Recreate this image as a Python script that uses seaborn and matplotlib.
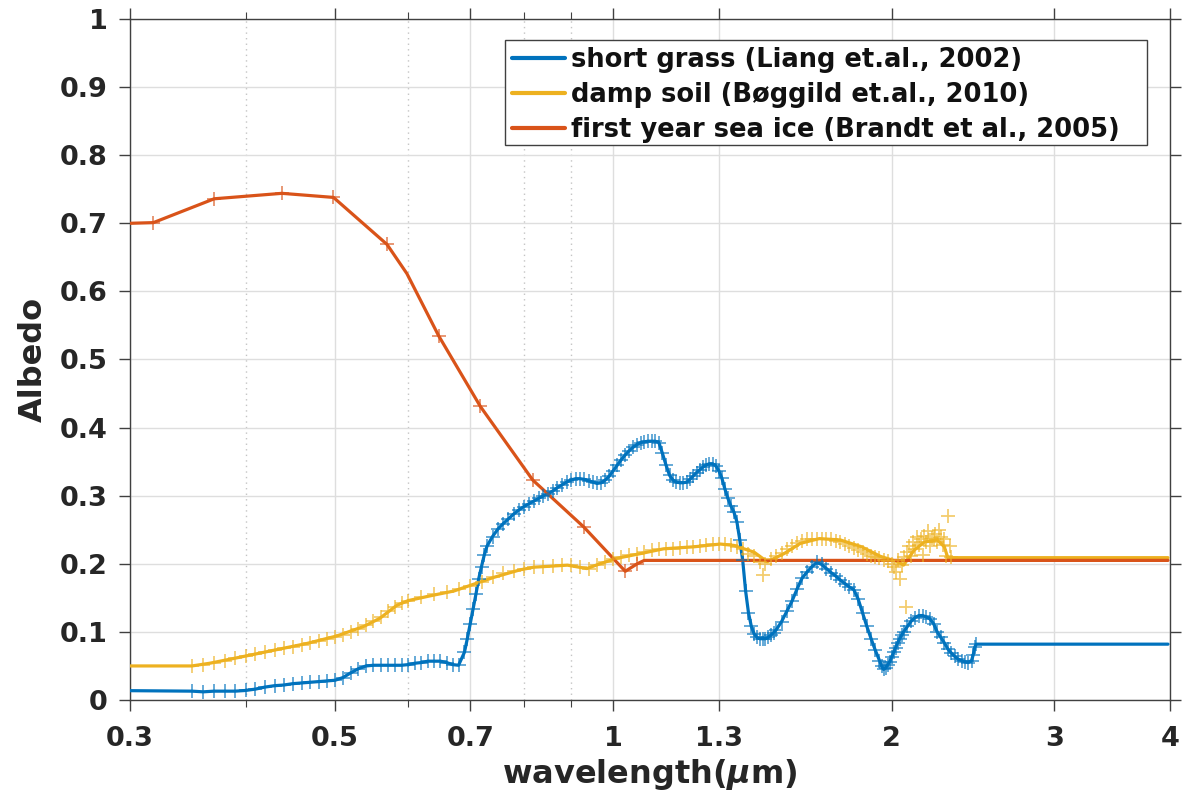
import matplotlib
matplotlib.use("Agg")
import matplotlib.pyplot as plt
import seaborn as sns
import pandas as pd
from matplotlib.ticker import FixedLocator, NullFormatter
from matplotlib.patches import Rectangle

# ---------------- data ----------------
WL_MIN = 0.3
WL_MAX = 3.98

grass_wl = [0.350, 0.360, 0.370, 0.380, 0.390, 0.400, 0.410, 0.420, 0.430, 0.440,
            0.450, 0.460, 0.470, 0.480, 0.490, 0.500, 0.510, 0.520, 0.530, 0.540,
            0.550, 0.560, 0.570, 0.580, 0.590, 0.600, 0.610, 0.620, 0.630, 0.640,
            0.650, 0.660, 0.670, 0.680, 0.690, 0.695, 0.700, 0.705, 0.710, 0.715,
            0.720, 0.725, 0.730, 0.740, 0.750, 0.760, 0.770, 0.780, 0.790, 0.800,
            0.810, 0.820, 0.830, 0.840, 0.850, 0.860, 0.870, 0.880, 0.890, 0.900,
            0.910, 0.920, 0.930, 0.940, 0.950, 0.960, 0.970, 0.980, 0.990, 1.000,
            1.010, 1.020, 1.030, 1.040, 1.050, 1.060, 1.070, 1.080, 1.090, 1.100,
            1.110, 1.120, 1.130, 1.140, 1.150, 1.160, 1.170, 1.180, 1.190, 1.200,
            1.210, 1.220, 1.230, 1.240, 1.250, 1.260, 1.270, 1.280, 1.290, 1.300,
            1.310, 1.320, 1.330, 1.340, 1.350, 1.360, 1.370, 1.380, 1.390, 1.400,
            1.410, 1.420, 1.430, 1.440, 1.450, 1.460, 1.470, 1.480, 1.490, 1.500,
            1.520, 1.540, 1.560, 1.580, 1.600, 1.620, 1.640, 1.660, 1.680, 1.700,
            1.720, 1.740, 1.760, 1.780, 1.800, 1.820, 1.840, 1.860, 1.880, 1.900,
            1.920, 1.940, 1.950, 1.960, 1.970, 1.980, 1.990, 2.000, 2.010, 2.020,
            2.030, 2.040, 2.050, 2.060, 2.080, 2.100, 2.120, 2.140, 2.160, 2.180,
            2.200, 2.220, 2.240, 2.260, 2.280, 2.300, 2.320, 2.340, 2.360, 2.380,
            2.400, 2.420, 2.440, 2.450, 2.460, 2.470]
grass_albedo = [0.013, 0.012, 0.013, 0.013, 0.013, 0.014, 0.016, 0.019, 0.021, 0.022,
                0.024, 0.025, 0.026, 0.027, 0.028, 0.029, 0.033, 0.040, 0.046, 0.050,
                0.051, 0.051, 0.051, 0.051, 0.051, 0.052, 0.054, 0.055, 0.057, 0.057,
                0.057, 0.055, 0.052, 0.051, 0.070, 0.090, 0.112, 0.133, 0.155, 0.178,
                0.196, 0.213, 0.226, 0.240, 0.251, 0.259, 0.266, 0.273, 0.279, 0.284,
                0.288, 0.292, 0.296, 0.300, 0.303, 0.307, 0.312, 0.316, 0.320, 0.323,
                0.325, 0.325, 0.324, 0.322, 0.320, 0.318, 0.319, 0.323, 0.329, 0.337,
                0.345, 0.353, 0.360, 0.366, 0.371, 0.375, 0.378, 0.379, 0.380, 0.380,
                0.380, 0.378, 0.362, 0.345, 0.330, 0.323, 0.320, 0.319, 0.319, 0.320,
                0.324, 0.329, 0.334, 0.338, 0.342, 0.345, 0.347, 0.347, 0.344, 0.337,
                0.326, 0.310, 0.296, 0.285, 0.276, 0.262, 0.235, 0.205, 0.160, 0.128,
                0.108, 0.097, 0.092, 0.090, 0.090, 0.090, 0.092, 0.095, 0.099, 0.103,
                0.115, 0.130, 0.145, 0.163, 0.179, 0.188, 0.196, 0.202, 0.199, 0.193,
                0.187, 0.182, 0.176, 0.171, 0.166, 0.162, 0.148, 0.128, 0.108, 0.090,
                0.073, 0.058, 0.050, 0.045, 0.047, 0.052, 0.056, 0.063, 0.070, 0.077,
                0.084, 0.090, 0.095, 0.100, 0.108, 0.116, 0.121, 0.124, 0.124, 0.122,
                0.119, 0.112, 0.100, 0.092, 0.084, 0.075, 0.069, 0.064, 0.060, 0.058,
                0.056, 0.055, 0.058, 0.066, 0.078, 0.082]
grass_start = 0.0137
grass_end = 0.082

soil_wl = [0.350, 0.360, 0.370, 0.380, 0.390, 0.400, 0.410, 0.420, 0.430, 0.440,
           0.450, 0.460, 0.470, 0.480, 0.490, 0.500, 0.510, 0.520, 0.530, 0.540,
           0.550, 0.560, 0.570, 0.580, 0.590, 0.600, 0.620, 0.640, 0.660, 0.680,
           0.700, 0.720, 0.740, 0.760, 0.780, 0.800, 0.820, 0.840, 0.860, 0.880,
           0.900, 0.920, 0.940, 0.960, 0.980, 1.000, 1.020, 1.040, 1.060, 1.080,
           1.100, 1.120, 1.140, 1.160, 1.180, 1.200, 1.220, 1.240, 1.260, 1.280,
           1.300, 1.320, 1.340, 1.360, 1.380, 1.400, 1.420, 1.440, 1.450, 1.460,
           1.480, 1.500, 1.520, 1.540, 1.560, 1.580, 1.600, 1.620, 1.640, 1.660,
           1.680, 1.700, 1.720, 1.740, 1.760, 1.780, 1.800, 1.820, 1.840, 1.860,
           1.880, 1.900, 1.920, 1.940, 1.960, 1.980, 2.000, 2.010, 2.020, 2.030,
           2.040, 2.050, 2.060, 2.070, 2.080, 2.090, 2.100, 2.110, 2.120, 2.130,
           2.140, 2.150, 2.160, 2.170, 2.180, 2.190, 2.200, 2.210, 2.220, 2.230,
           2.240, 2.250, 2.260, 2.270, 2.280, 2.290, 2.300, 2.310, 2.320]
soil_albedo = [0.050, 0.052, 0.054, 0.057, 0.061, 0.064, 0.067, 0.071, 0.073, 0.076,
               0.078, 0.081, 0.084, 0.087, 0.090, 0.093, 0.096, 0.100, 0.104, 0.110,
               0.116, 0.122, 0.130, 0.137, 0.142, 0.146, 0.151, 0.155, 0.158, 0.163,
               0.168, 0.174, 0.180, 0.186, 0.190, 0.193, 0.195, 0.196, 0.197, 0.198,
               0.198, 0.196, 0.193, 0.198, 0.203, 0.207, 0.210, 0.213, 0.215, 0.217,
               0.220, 0.222, 0.222, 0.222, 0.223, 0.224, 0.225, 0.226, 0.228, 0.229,
               0.229, 0.229, 0.228, 0.225, 0.221, 0.215, 0.212, 0.202, 0.183, 0.200,
               0.207, 0.212, 0.216, 0.221, 0.226, 0.230, 0.233, 0.236, 0.237, 0.237,
               0.237, 0.237, 0.236, 0.234, 0.232, 0.229, 0.226, 0.223, 0.220, 0.217,
               0.214, 0.212, 0.210, 0.208, 0.206, 0.204, 0.200, 0.195, 0.188, 0.205,
               0.178, 0.198, 0.210, 0.137, 0.218, 0.226, 0.212, 0.232, 0.222, 0.240,
               0.228, 0.236, 0.213, 0.241, 0.232, 0.248, 0.226, 0.238, 0.236, 0.244,
               0.232, 0.250, 0.240, 0.228, 0.236, 0.212, 0.270, 0.226, 0.210]

soil_line_wl = [0.300, 0.350, 0.366, 0.395, 0.429, 0.466, 0.502, 0.537, 0.559, 0.583,
                0.600, 0.639, 0.672, 0.706, 0.742, 0.792, 0.820, 0.892, 0.936, 0.967,
                1.008, 1.070, 1.133, 1.223, 1.305, 1.350, 1.420, 1.467, 1.530, 1.593,
                1.670, 1.760, 1.855, 1.944, 2.030, 2.060, 2.115, 2.170, 2.240, 2.280,
                2.300, 3.980]
soil_line_albedo = [0.050, 0.050, 0.054, 0.063, 0.073, 0.083, 0.094, 0.108, 0.120, 0.139,
                    0.146, 0.154, 0.160, 0.170, 0.180, 0.191, 0.195, 0.198, 0.193, 0.200,
                    0.208, 0.215, 0.222, 0.225, 0.229, 0.227, 0.217, 0.203, 0.215, 0.230,
                    0.237, 0.235, 0.225, 0.211, 0.203, 0.198, 0.220, 0.232, 0.235, 0.225,
                    0.209, 0.209]

ice_wl = [0.318, 0.370, 0.438, 0.498, 0.569, 0.647, 0.718, 0.818, 0.929, 1.030, 1.061]
ice_albedo = [0.701, 0.736, 0.744, 0.738, 0.669, 0.535, 0.431, 0.323, 0.254, 0.189, 0.200]
ice_line_wl = [0.300, 0.318, 0.370, 0.438, 0.498, 0.569, 0.598, 0.647, 0.718, 0.818,
               0.929, 1.030, 1.061, 1.080, 3.980]
ice_line_albedo = [0.700, 0.701, 0.736, 0.744, 0.738, 0.669, 0.626, 0.535, 0.431, 0.323,
                   0.254, 0.189, 0.200, 0.205, 0.205]

labels = ["short grass (Liang et.al., 2002)",
          "damp soil (Bøggild et.al., 2010)",
          "first year sea ice (Brandt et al., 2005)"]
colors = ["#0072BD", "#EDB120", "#D95319"]

x_ticks = [0.3, 0.5, 0.7, 1, 1.3, 2, 3, 4]
x_ticklabels = ["0.3", "0.5", "0.7", "1", "1.3", "2", "3", "4"]
x_minor = [0.4, 0.6, 0.8, 0.9]
y_ticks = [0, 0.1, 0.2, 0.3, 0.4, 0.5, 0.6, 0.7, 0.8, 0.9, 1.0]
y_ticklabels = ["0", "0.1", "0.2", "0.3", "0.4", "0.5", "0.6", "0.7", "0.8", "0.9", "1"]

# ---------------- build tables ----------------
grass_line = pd.DataFrame({"wl": [WL_MIN] + grass_wl + [WL_MAX],
                           "alb": [grass_start] + grass_albedo + [grass_end]})
grass_pts = pd.DataFrame({"wl": grass_wl, "alb": grass_albedo})
soil_line = pd.DataFrame({"wl": soil_line_wl, "alb": soil_line_albedo})
soil_pts = pd.DataFrame({"wl": soil_wl, "alb": soil_albedo})
ice_line = pd.DataFrame({"wl": ice_line_wl, "alb": ice_line_albedo})
ice_pts = pd.DataFrame({"wl": ice_wl, "alb": ice_albedo})

# ---------------- style ----------------
sns.set_theme(style="ticks")
plt.rcParams["font.family"] = ["DejaVu Sans"]
plt.rcParams["font.weight"] = "bold"
plt.rcParams["axes.labelweight"] = "bold"
plt.rcParams["mathtext.default"] = "it"

W, H = 1184, 798
AX_L, AX_R, AX_T, AX_B = 130, 1170, 19, 700
fig = plt.figure(figsize=(W / 100, H / 100), dpi=100)
ax = fig.add_axes([AX_L / W, 1 - AX_B / H, (AX_R - AX_L) / W, (AX_B - AX_T) / H])
ax.set_xscale("log")


def ax_x(px):
    return (px - AX_L) / (AX_R - AX_L)


def ax_y(py):
    return (AX_B - py) / (AX_B - AX_T)


LW = 2.3
MS = 100
lines_data = [(grass_line, grass_pts), (soil_line, soil_pts), (ice_line, ice_pts)]
for (ldf, pdf), c, lab in zip(lines_data, colors, labels):
    sns.lineplot(data=ldf, x="wl", y="alb", color=c, lw=LW, sort=False,
                 estimator=None, ax=ax, label=lab, zorder=3)
for (ldf, pdf), c in zip(lines_data, colors):
    sns.scatterplot(data=pdf, x="wl", y="alb", color=c, marker="+", s=MS,
                    linewidth=1.3, alpha=0.65, ax=ax, legend=False, zorder=4)

ax.set_xlim(0.3, 4)
ax.set_ylim(0, 1)
ax.xaxis.set_major_locator(FixedLocator(x_ticks))
ax.set_xticklabels(x_ticklabels)
ax.xaxis.set_minor_locator(FixedLocator(x_minor))
ax.xaxis.set_minor_formatter(NullFormatter())
ax.set_yticks(y_ticks)
ax.set_yticklabels(y_ticklabels)

ax.grid(which="major", color="#dedede", lw=1.0, zorder=0)
ax.grid(which="minor", axis="x", color="#c4c4c4", lw=1.0, ls=(0, (1, 3)), zorder=0)
ax.set_axisbelow(True)

for s in ax.spines.values():
    s.set_visible(True)
    s.set_color("#404040")
    s.set_linewidth(1.0)

ax.tick_params(which="major", direction="out", length=8, width=1.0,
               colors="#404040", top=True, right=True,
               labelcolor="#262626", labelsize=19.5)
ax.tick_params(which="minor", direction="out", length=5, width=0.8,
               colors="#404040", top=True, right=False)
ax.tick_params(axis="x", which="major", pad=11)
ax.tick_params(axis="y", which="major", pad=8)
for t in ax.get_xticklabels() + ax.get_yticklabels():
    t.set_fontweight("bold")

ax.set_xlabel(r"wavelength($\mu$m)", fontsize=23, fontweight="bold",
              color="#262626", labelpad=3)
ax.set_ylabel("Albedo", fontsize=23, fontweight="bold", color="#262626", labelpad=8)

# legend box (drawn as a frame) plus frameless legend entries inside it
box_l, box_r, box_t, box_b = 505, 1147, 40, 145
frame = Rectangle((ax_x(box_l), ax_y(box_b)), ax_x(box_r) - ax_x(box_l),
                  ax_y(box_t) - ax_y(box_b), transform=ax.transAxes,
                  facecolor="white", edgecolor="#404040", lw=1.0, zorder=6,
                  clip_on=False)
ax.add_patch(frame)

handles = ax.get_lines()[:3]
leg = ax.legend(handles=handles, labels=labels, loc="upper left",
                bbox_to_anchor=(ax_x(512), ax_y(47)),
                borderaxespad=0, frameon=False,
                handlelength=2.05, handletextpad=0.25, labelspacing=0.35,
                borderpad=0.0, prop={"weight": "bold", "size": 18.5})
leg.set_zorder(7)
for t in leg.get_texts():
    t.set_color("#111111")
for h in leg.get_lines():
    h.set_linewidth(3)

fig.savefig("out.png", dpi=100)
